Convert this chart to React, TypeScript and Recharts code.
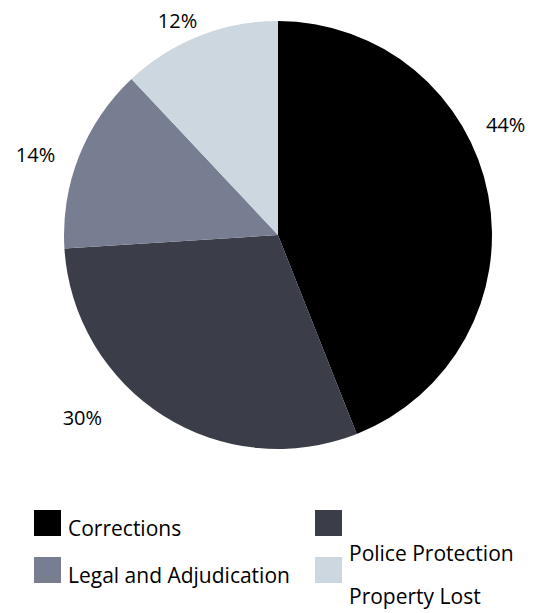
import React from "react";
import { PieChart, Pie, Cell, Legend } from "recharts";

const categories = ["Corrections", "Police Protection", "Legal and Adjudication", "Property Lost"];
const shares = [44, 30, 14, 12];
const colors = ["#000000", "#3b3e49", "#777e92", "#cdd7df"];

const data = categories.map((name, i) => ({ name, value: shares[i] }));

const FONT = "'Open Sans', 'DejaVu Sans', sans-serif";
const RADIAN = Math.PI / 180;
// best-fit style label nudges (px) relative to the mid-angle spot
const LABEL_NUDGE: [number, number][] = [[-13, -64], [-59, -32], [-10, 12], [-14, 4]];
const LABEL_GAP: number[] = [31, 41, 36, 21];

function SliceLabel({ cx, cy, midAngle, outerRadius, index, value }: any) {
  const r = outerRadius + LABEL_GAP[index];
  const [dx, dy] = LABEL_NUDGE[index];
  const x = cx + r * Math.cos(-midAngle * RADIAN) + dx;
  const y = cy + r * Math.sin(-midAngle * RADIAN) + dy;
  return (
    <text x={x} y={y + 7} textAnchor="middle" fontSize={20} fontFamily={FONT} fill="#000">
      {value}%
    </text>
  );
}

// legend: 2 columns, the right column's text sits about a line lower than its swatch
function LegendBox() {
  const cols = [34, 315];
  const rows = [10, 57];
  const rightDrop = [25, 21];
  return (
    <svg width={541} height={113} style={{ display: "block" }}>
      {categories.map((name, i) => {
        const col = i % 2;
        const row = Math.floor(i / 2);
        const x = cols[col];
        const y = rows[row];
        return (
          <g key={name}>
            <rect x={x} y={y} width={27} height={26} fill={colors[i]} />
            <text x={x + 34} y={y + 26 + (col === 1 ? rightDrop[row] : 0)} fontSize={21} fontFamily={FONT} fill="#000">
              {name}
            </text>
          </g>
        );
      })}
    </svg>
  );
}

export default function App() {
  return (
    <div style={{ position: "absolute", left: 0, top: 0, width: 541, height: 613, background: "#fff" }}>
      <PieChart width={541} height={613} margin={{ top: 0, right: 0, bottom: 0, left: 0 }}>
        <Pie
          data={data}
          dataKey="value"
          nameKey="name"
          cx={278}
          cy={235}
          outerRadius={214}
          startAngle={90}
          endAngle={-270}
          stroke="none"
          label={SliceLabel}
          labelLine={false}
          isAnimationActive={false}
        >
          {data.map((d, i) => <Cell key={d.name} fill={colors[i]} />)}
        </Pie>
        <Legend
          content={() => <LegendBox />}
          wrapperStyle={{ position: "absolute", left: 0, top: 500, width: 541, height: 113 }}
        />
      </PieChart>
    </div>
  );
}
